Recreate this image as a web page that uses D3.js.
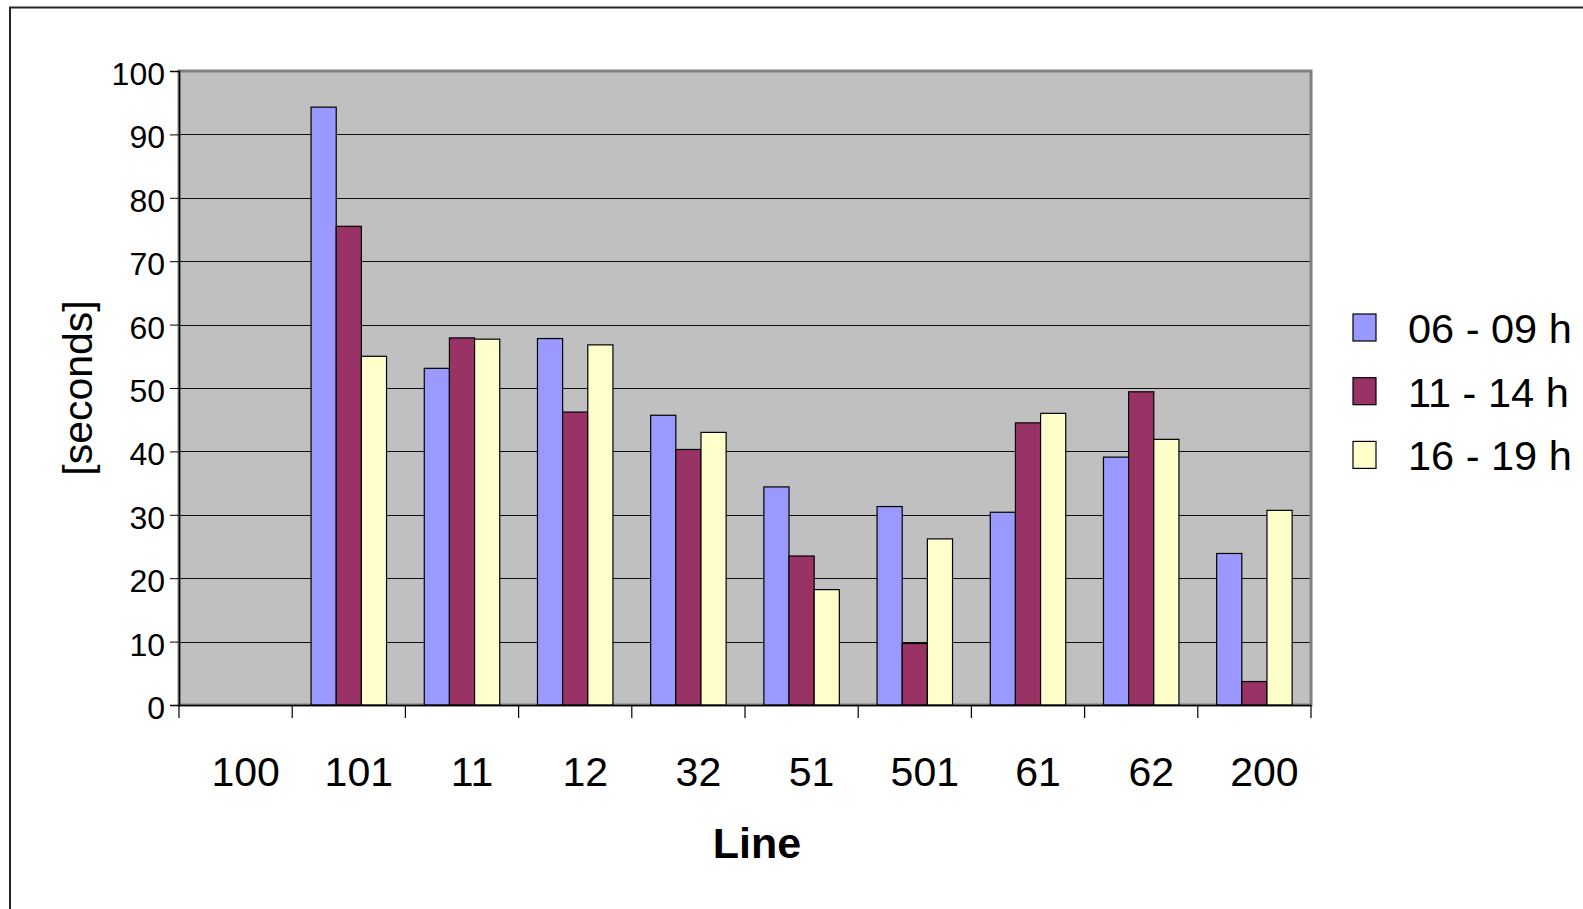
<!DOCTYPE html>
<html>
<head>
<meta charset="utf-8">
<script src="https://cdn.jsdelivr.net/npm/d3@7"></script>
<style>
  html, body { margin: 0; padding: 0; background: #fff; overflow: hidden; }
  svg { display: block; font-family: "Liberation Sans", Arial, sans-serif; }
</style>
</head>
<body>
<svg id="chart" width="1583" height="909"></svg>
<script>
// Bus lines along the x axis
const categories = ["100", "101", "11", "12", "32", "51", "501", "61", "62", "200"];
// Time windows (series)
const seriesNames = ["06 - 09 h", "11 - 14 h", "16 - 19 h"];
// Seconds per line for each time window (null = no measurement)
const morning = [null, 94.3, 53.1, 57.8, 45.7, 34.4, 31.3, 30.4, 39.1, 23.9];
const midday  = [null, 75.5, 57.9, 46.2, 40.3, 23.5,  9.7, 44.5, 49.4,  3.7];
const evening = [null, 55.0, 57.7, 56.8, 43.0, 18.2, 26.2, 46.0, 41.9, 30.7];
const yTicks = [0, 10, 20, 30, 40, 50, 60, 70, 80, 90, 100];

const seriesValues = [morning, midday, evening];
const colors = ["#9999FF", "#993366", "#FFFFCC"];

const svg = d3.select("#chart");

// Outer chart frame (open to the right and bottom)
svg.append("rect")
  .attr("x", 10).attr("y", 7.5)
  .attr("width", 1700).attr("height", 1000)
  .attr("fill", "none").attr("stroke", "#262626").attr("stroke-width", 2);

const plot = { left: 179, right: 1311, top: 71, bottom: 705 };

const x0 = d3.scaleBand().domain(categories).range([plot.left, plot.right]).padding(0);
// Gap width 150%: three bars plus 1.5 bar widths of gap per category
const barW = x0.bandwidth() / 4.5;
const x1 = d3.scaleBand().domain(seriesNames)
  .range([barW * 0.75, barW * 3.75]).padding(0);
const y = d3.scaleLinear().domain([0, 100]).range([plot.bottom, plot.top]);

// Plot area
svg.append("rect")
  .attr("x", plot.left).attr("y", plot.top)
  .attr("width", plot.right - plot.left).attr("height", plot.bottom - plot.top)
  .attr("fill", "#C0C0C0").attr("stroke", "#808080").attr("stroke-width", 3);

// Horizontal gridlines
svg.append("g").selectAll("line")
  .data(yTicks.filter(t => t > 0 && t < 100))
  .join("line")
  .attr("x1", plot.left).attr("x2", plot.right - 1.5)
  .attr("y1", d => Math.round(y(d)) + 0.5).attr("y2", d => Math.round(y(d)) + 0.5)
  .attr("stroke", "#111").attr("stroke-width", 1.2);

// Bars
const rows = categories.map((c, i) => ({
  cat: c,
  vals: seriesNames.map((s, k) => ({ s, k, v: seriesValues[k][i] }))
}));

const groups = svg.append("g").selectAll("g")
  .data(rows).join("g")
  .attr("transform", d => `translate(${x0(d.cat)},0)`);

groups.selectAll("rect")
  .data(d => d.vals.filter(e => e.v != null))
  .join("rect")
  .attr("x", d => x1(d.s))
  .attr("y", d => y(d.v))
  .attr("width", x1.bandwidth())
  .attr("height", d => y(0) - y(d.v))
  .attr("fill", d => colors[d.k])
  .attr("stroke", "#000").attr("stroke-width", 1.2);

// Y axis
const yAxis = d3.axisLeft(y).tickValues(yTicks).tickSize(9).tickPadding(5);
const gy = svg.append("g").attr("transform", `translate(${plot.left},0)`).call(yAxis);
gy.select(".domain").attr("stroke", "#000").attr("stroke-width", 1.5);
gy.selectAll(".tick line").attr("stroke", "#000");
gy.selectAll(".tick text")
  .attr("font-size", 32).attr("fill", "#000")
  .attr("font-family", "Liberation Sans, Arial, sans-serif")
  .attr("dy", "0.42em");

// X axis
const xAxis = d3.axisBottom(x0).tickSize(0).tickPadding(0);
const gx = svg.append("g").attr("transform", `translate(0,${plot.bottom})`).call(xAxis);
gx.select(".domain").attr("stroke", "#000").attr("stroke-width", 1.5);
gx.selectAll(".tick text")
  .attr("font-size", 41).attr("fill", "#000")
  .attr("font-family", "Liberation Sans, Arial, sans-serif")
  .attr("dy", 0).attr("y", 81).attr("x", 10);

// Category separator ticks
svg.append("g").selectAll("line")
  .data(categories.map(c => x0(c)).concat([plot.right]))
  .join("line")
  .attr("x1", d => d).attr("x2", d => d)
  .attr("y1", plot.bottom).attr("y2", plot.bottom + 13)
  .attr("stroke", "#000").attr("stroke-width", 1.2);

// Axis titles
svg.append("text")
  .attr("transform", "translate(92,388) rotate(-90)")
  .attr("text-anchor", "middle")
  .attr("font-size", 41)
  .attr("fill", "#000")
  .text("[seconds]");

svg.append("text")
  .attr("x", 757).attr("y", 858)
  .attr("text-anchor", "middle")
  .attr("font-size", 43).attr("font-weight", "bold")
  .attr("fill", "#000")
  .text("Line");

// Legend
const legend = svg.append("g").selectAll("g")
  .data(seriesNames).join("g")
  .attr("transform", (d, i) => `translate(1353,${314 + i * 63.7})`);
legend.append("rect")
  .attr("width", 23).attr("height", 27)
  .attr("fill", (d, i) => colors[i])
  .attr("stroke", "#000").attr("stroke-width", 1.2);
legend.append("text")
  .attr("x", 55).attr("y", 29)
  .attr("font-size", 41.5).attr("fill", "#000")
  .text(d => d);
</script>
</body>
</html>
